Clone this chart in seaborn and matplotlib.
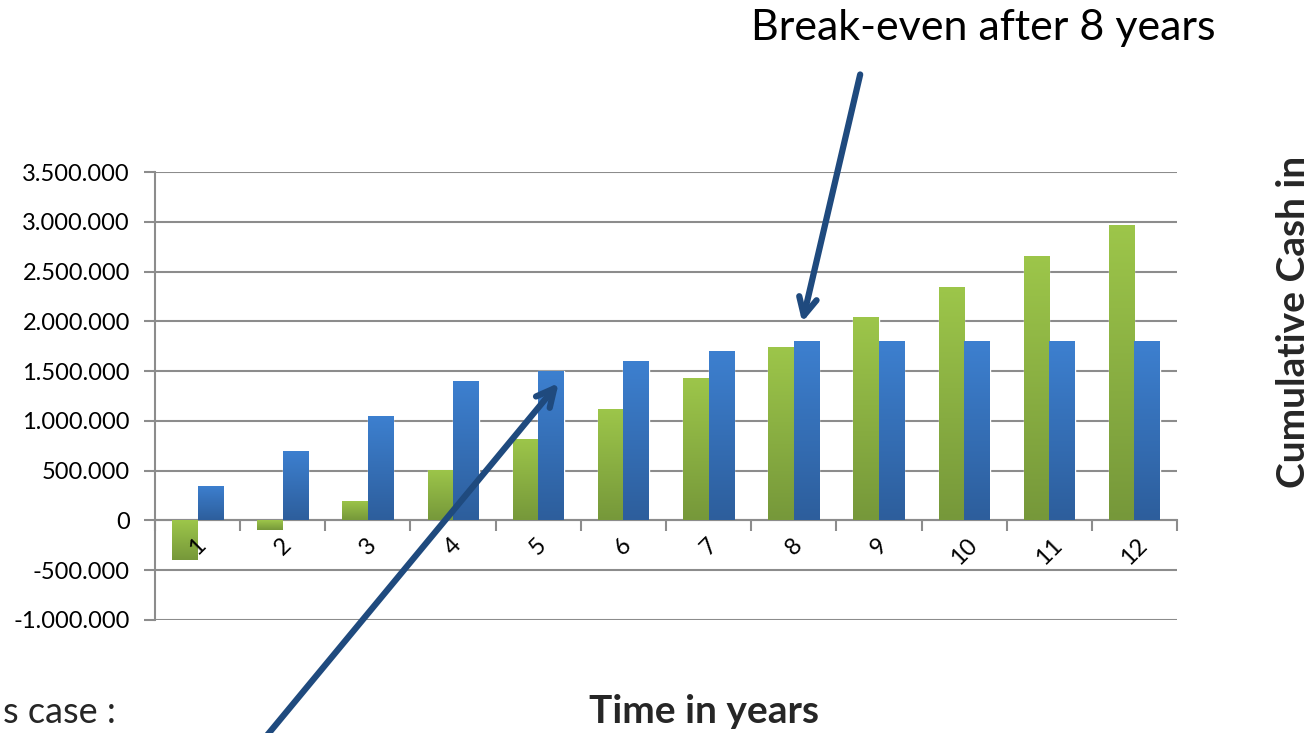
# Cumulative cash per year: two scenarios side by side

import numpy as np
import pandas as pd
import matplotlib
matplotlib.use("Agg")
import matplotlib.pyplot as plt
import seaborn as sns
from matplotlib.ticker import FuncFormatter

# Data
years = [str(i) for i in range(1, 13)]
green_values = [-400000, -100000, 200000, 510000, 815000, 1120000,
                1430000, 1740000, 2040000, 2350000, 2655000, 2965000]
blue_values = [350000, 700000, 1050000, 1400000, 1500000, 1600000,
               1700000, 1800000, 1800000, 1800000, 1800000, 1800000]
y_ticks = [-1000000, -500000, 0, 500000, 1000000, 1500000,
           2000000, 2500000, 3000000, 3500000]

df = pd.DataFrame({
    "Year": years * 2,
    "Cash": green_values + blue_values,
    "Series": ["green"] * len(years) + ["blue"] * len(years),
})

sns.set_theme(style="white")
plt.rcParams["font.family"] = ["Lato", "DejaVu Sans"]

grid_col = "#8c8c8c"
arrow_col = "#1f4a7e"

fig = plt.figure(figsize=(13.11, 7.33), dpi=100)
ax = fig.add_axes([0.1182, 0.1542, 0.7796, 0.6111])

sns.barplot(data=df, x="Year", y="Cash", hue="Series",
            palette=["#8db543", "#3570b8"], width=0.6, saturation=1,
            legend=False, ax=ax, zorder=2)

# vertical gradient on each bar, light on top, dark at the bottom
ramps = {
    "green": ("#9dc64a", "#76983a"),
    "blue": ("#3d80d0", "#2d5e9c"),
}
for i, patch in enumerate(list(ax.patches)):
    key = "green" if i < len(years) else "blue"
    top_c, bot_c = ramps[key]
    cmap = matplotlib.colors.LinearSegmentedColormap.from_list(key, [top_c, bot_c])
    x0, w = patch.get_x(), patch.get_width()
    y0, h = patch.get_y(), patch.get_height()
    lo, hi = min(y0, y0 + h), max(y0, y0 + h)
    grad = np.linspace(0, 1, 256).reshape(-1, 1)
    im = ax.imshow(grad, cmap=cmap, extent=[x0, x0 + w, lo, hi],
                   aspect="auto", origin="upper", zorder=3)
    im.set_clip_path(patch)

ax.set_xlim(-0.5, len(years) - 0.5)
ax.set_ylim(-1000000, 3500000)
ax.set_yticks(y_ticks)
ax.yaxis.set_major_formatter(
    FuncFormatter(lambda v, p: f"{int(v):,}".replace(",", ".")))
ax.grid(axis="y", color=grid_col, lw=1.5)
ax.set_axisbelow(True)
ax.tick_params(axis="y", left=True, length=8, width=1.5, color=grid_col,
               labelsize=17, pad=10, labelcolor="black")

# x axis sits on zero, ticks between the years
ax.spines["top"].set_visible(False)
ax.spines["right"].set_visible(False)
ax.spines["left"].set_color(grid_col)
ax.spines["left"].set_linewidth(1.5)
ax.spines["bottom"].set_position(("data", 0))
ax.spines["bottom"].set_color(grid_col)
ax.spines["bottom"].set_linewidth(1.5)
ax.set_xticks(range(len(years)))
ax.set_xticklabels(years, rotation=45, ha="center", va="top")
ax.set_xticks(np.arange(-0.5, len(years), 1.0), minor=True)
ax.tick_params(axis="x", which="major", bottom=True, length=0, pad=10,
               labelsize=17, labelcolor="black")
ax.tick_params(axis="x", which="minor", bottom=True, length=8, width=1.5,
               color=grid_col)
ax.xaxis.set_zorder(5)  # year labels drawn over the negative bars
ax.set_xlabel("")
ax.set_ylabel("")

# annotations
ax.annotate("", xy=(4.24, 1380000), xytext=(0.67, -2310000),
            xycoords="data", textcoords="data", annotation_clip=False,
            arrowprops=dict(arrowstyle="->", lw=4.5, color=arrow_col,
                            mutation_scale=32, shrinkA=0, shrinkB=0))
ax.annotate("", xy=(7.10, 1990000), xytext=(7.78, 4480000),
            xycoords="data", textcoords="data", annotation_clip=False,
            arrowprops=dict(arrowstyle="->", lw=4.5, color=arrow_col,
                            mutation_scale=32, shrinkA=0, shrinkB=0))

fig.text(0.75, 0.962, "Break-even after 8 years", fontsize=31,
         ha="center", va="center", color="black")
fig.text(0.537, 0.029, "Time in years", fontsize=28, fontweight="bold",
         ha="center", va="center")
fig.text(0.987, 0.561, "Cumulative Cash in", fontsize=28, fontweight="bold",
         rotation=90, ha="center", va="center")
fig.text(0.002, 0.006, "s case :", fontsize=26, ha="left", va="bottom")

fig.savefig("out.png", dpi=100)
plt.close(fig)
